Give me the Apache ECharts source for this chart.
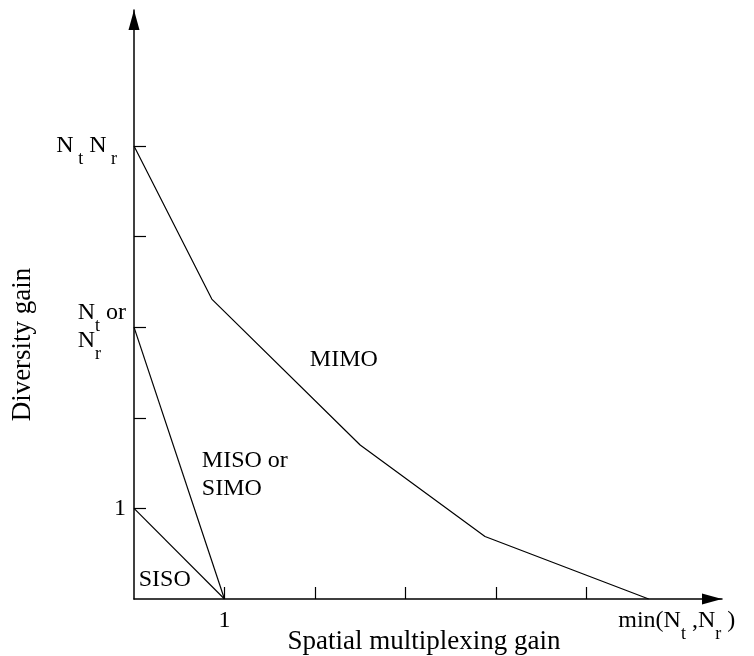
<!DOCTYPE html>
<html><head><meta charset="utf-8">
<script src="https://cdn.jsdelivr.net/npm/echarts@6/dist/echarts.min.js"></script>
<style>html,body{margin:0;padding:0;background:#fff}#c{width:754px;height:656px}</style>
</head><body><div id="c"></div>
<script>
// ---- data ----
const mimoX = [0, 0.86, 2.50, 3.88, 5.69];
const mimoY = [5, 3.31, 1.70, 0.69, 0];
const misoX = [0, 1];
const misoY = [3, 0];
const sisoX = [0, 1];
const sisoY = [1, 0];
const xTickValues = [1, 2, 3, 4, 5];
const yTickValues = [1, 2, 3, 4, 5];
const xLabelValues = [1, 6];
const yLabelValues = [1, 3, 5];
const xTickLabels = {1: '{n|1}', 6: '{n|min(N}{s|t}{n| ,N}{s|r}{n| )}'};
const yTickLabels = {1: '{n|1}', 3: '{n|N}{s|t}{n| or}\n{n|N}{s|r}', 5: '{n|N}{s| t}{n| N}{s| r  }'};
const xAxisTitle = 'Spatial multiplexing gain';
const yAxisTitle = 'Diversity gain';
const regionNames = ['MIMO', 'MISO or\nSIMO', 'SISO'];

const FONT = '"Liberation Serif", "Times New Roman", serif';
const zip = (xs, ys) => xs.map((x, i) => [x, ys[i]]);
const rich = {
  n: {fontSize: 24, lineHeight: 28, fontFamily: FONT, color: '#000', align: 'left'},
  s: {fontSize: 18, height: 1, lineHeight: 1, verticalAlign: 'bottom', fontFamily: FONT, color: '#000', align: 'left'}
};
const lineStyle = {color: '#000', width: 1.2};

const chart = echarts.init(document.getElementById('c'));
chart.setOption({
  animation: false,
  backgroundColor: '#fff',
  grid: {left: 134, right: 32, top: 10, bottom: 57, containLabel: false, outerBoundsMode: 'none'},
  xAxis: {
    type: 'value', min: 0, max: 6.5,
    axisLine: {show: true, onZero: false, symbol: ['none', 'triangle'], symbolSize: [11, 20], symbolOffset: [0, -10],
      lineStyle: {color: '#000', width: 1.5}},
    axisTick: {show: true, inside: true, length: 12, customValues: xTickValues, lineStyle: {color: '#000', width: 1.2}},
    axisLabel: {show: true, customValues: xLabelValues, margin: 8, formatter: v => xTickLabels[v] || '', rich: rich},
    splitLine: {show: false},
    name: xAxisTitle, nameLocation: 'middle', nameGap: 29, nameMoveOverlap: false,
    nameTextStyle: {fontSize: 27, fontFamily: FONT, color: '#000', padding: [0, 8, 0, 0]}
  },
  yAxis: {
    type: 'value', min: 0, max: 6.5,
    axisLine: {show: true, onZero: false, symbol: ['none', 'triangle'], symbolSize: [11, 20], symbolOffset: [0, -10],
      lineStyle: {color: '#000', width: 1.5}},
    axisTick: {show: true, inside: true, length: 12, customValues: yTickValues, lineStyle: {color: '#000', width: 1.2}},
    axisLabel: {show: true, customValues: yLabelValues, margin: 8, formatter: v => yTickLabels[v] || '', rich: rich},
    splitLine: {show: false},
    name: yAxisTitle, nameLocation: 'middle', nameGap: 98, nameMoveOverlap: false,
    nameTextStyle: {fontSize: 27, fontFamily: FONT, color: '#000', padding: [0, 80, 0, 0]}
  },
  series: [
    {name: 'MIMO', type: 'line', data: zip(mimoX, mimoY), symbol: 'none', lineStyle: lineStyle},
    {name: 'MISO or SIMO', type: 'line', data: zip(misoX, misoY), symbol: 'none', lineStyle: lineStyle},
    {name: 'SISO', type: 'line', data: zip(sisoX, sisoY), symbol: 'none', lineStyle: lineStyle},
    {
      name: 'regions', type: 'scatter', symbolSize: 0, silent: true,
      itemStyle: {opacity: 1, color: '#000'},
      data: [
        {value: [2.32, 2.64], label: {position: 'inside', formatter: regionNames[0]}},
        {value: [0.75, 1.37], label: {position: 'right', distance: 0, align: 'left', formatter: regionNames[1]}},
        {value: [0.34, 0.21], label: {position: 'inside', formatter: regionNames[2]}}
      ],
      label: {show: true, color: '#000', opacity: 1, fontSize: 24, lineHeight: 28, fontFamily: FONT}
    }
  ]
});
</script>
</body></html>
